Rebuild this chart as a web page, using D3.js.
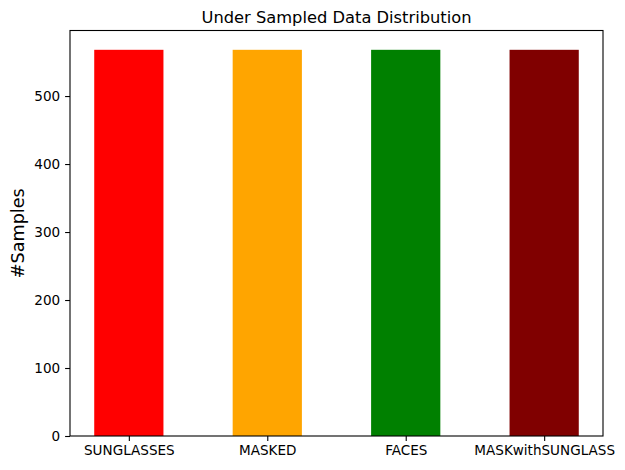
<!DOCTYPE html>
<html><head><meta charset="utf-8">
<script src="https://cdn.jsdelivr.net/npm/d3@7"></script>
<style>body{margin:0;background:#fff}svg{display:block}text{font-family:"DejaVu Sans",sans-serif;fill:#000}</style>
</head><body><svg id="c" width="625" height="470"></svg>
<script>
const categories = ["SUNGLASSES","MASKED","FACES","MASKwithSUNGLASS"];
const values = [568, 568, 568, 568];
const colors = ["#ff0000","#ffa500","#008000","#800000"];
const yTicks = [0,100,200,300,400,500];
const title = "Under Sampled Data Distribution";
const yLabel = "#Samples";

const svg = d3.select("#c");
const L=70, R=603, T=30.5, B=436;
const x = d3.scaleLinear().domain([-0.425, 3.425]).range([L,R]);
const y = d3.scaleLinear().domain([0, 568*1.05]).range([B,T]);
const bw = 0.5;

svg.selectAll("rect.bar").data(values).enter().append("rect")
  .attr("x",(d,i)=>x(i-bw/2)).attr("width",(d,i)=>x(i+bw/2)-x(i-bw/2))
  .attr("y",d=>y(d)).attr("height",d=>y(0)-y(d))
  .attr("fill",(d,i)=>colors[i]);

const ya = svg.append("g").attr("transform",`translate(${L},0)`)
  .call(d3.axisLeft(y).tickValues(yTicks).tickSize(4.9).tickPadding(4.9));
const xa = svg.append("g").attr("transform",`translate(0,${B})`)
  .call(d3.axisBottom(x).tickValues(d3.range(categories.length)).tickFormat(i=>categories[i]).tickSize(4.9).tickPadding(4.9));
[ya,xa].forEach(g=>{g.select(".domain").remove();g.selectAll("line").attr("stroke","#000").attr("stroke-width",1.1);
  g.selectAll("text").attr("font-family","DejaVu Sans").attr("font-size",13.56).attr("fill","#000");});

svg.append("rect").attr("x",L).attr("y",T).attr("width",R-L).attr("height",B-T)
  .attr("fill","none").attr("stroke","#000").attr("stroke-width",1.1);

svg.append("text").attr("x",(L+R)/2).attr("y",T-7.5).attr("text-anchor","middle")
  .attr("font-size",16.3).text(title);
svg.append("text").attr("transform",`translate(24,${(T+B)/2}) rotate(-90)`).attr("text-anchor","middle")
  .attr("font-size",17.6).text(yLabel);
</script></body></html>
